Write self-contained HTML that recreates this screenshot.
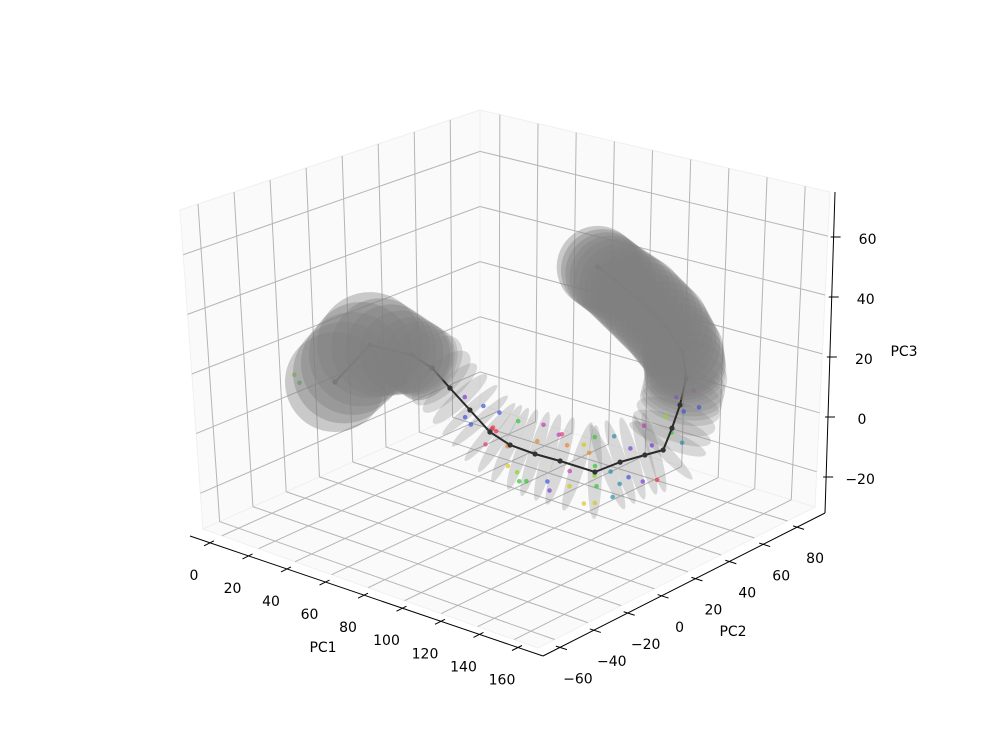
<!DOCTYPE html>
<html><head><meta charset="utf-8"><style>
html,body{margin:0;padding:0;background:#fff;}
svg{display:block;font-family:"DejaVu Sans","Liberation Sans",sans-serif;}
</style></head>
<body>
<svg id="chart" width="1000" height="750" viewBox="0 0 1000 750">
<g id="panes"></g>
<g id="grid"></g>
<g id="discs"></g>
<g id="pts"></g>
<g id="curve"></g>
<g id="spheres"></g>
<g id="axes"></g>
</svg>
<script>
// ---- data ----
const pc1Ticks=[0,20,40,60,80,100,120,140,160];
const pc2Ticks=[-60,-40,-20,0,20,40,60,80];
const pc3Ticks=[-20,0,20,40,60];
const curveP1=[22.1,11.1,24.4,29,38.2,49.6,61,70.1,79.8,88,99.9,104.2,108.4,114.4,116,114.2,111.2,108.4,104.9,100.9,94,90.3];
const curveP2=[-28.3,3.6,13.6,20.3,20.7,20,19.3,21.2,25.2,30.9,38.2,48.1,57.9,62,65.4,71.9,78.6,79.8,73.2,63.1,56.1,50.2];
const curveP3=[15,18,15,10,5,0,-5,-8,-10,-12,-15,-13,-12,-10,-3,3,10,18,28,38,45,50];
const discRadius=[17,18,13,13,12,12.5,13,14,15,15.5,16,15,14,14,14,14,14,14,15,15,14,14];
const discFacing=[1,1,1,0.6,0.3,0.15,0.15,0.15,0.15,0.15,0.15,0.15,0.15,0.15,0.3,0.45,0.7,1,1,1,1,1];
const ptP1=[47,52,45,55,58,63,60,66,58,68,72,75,78,70,82,85,78,84,80,86,90,92,87,94,96,97,101,100,102,98,96,100,103,105,102,108,104,107,110,106,112,113,117,112,119,118,114,114,108,112,115,-2,-1];
const ptP2=[20,18,22,22,20,19,24,15,28,22,18,20,18,26,30,28,32,22,20,34,28,32,36,30,36,38,37,39,36,40,36,38,46,47,45,50,44,50,55,60,58,60,64,66,68,70,70,80,82,74,82,-26,-24];
const ptP3=[-3,-4,3,2,-10,-3,-6,-2,-1,-9,-14,-16,-18,-1,-20,-22,-2,-4,-18,-4,-2,-20,-8,-14,-6,-9,-25,-20,-12,-17,-26,-3,-4,-20,-16,-8,-24,-18,-20,-3,-8,-20,-4,0,-8,2,6,6,16,12,0,12,9];
const ptColor=[6,6,7,6,9,0,0,0,6,1,2,3,4,4,6,7,8,1,4,9,8,2,1,8,2,1,2,4,4,3,2,4,5,5,5,7,5,6,7,8,7,0,4,3,5,6,7,8,1,1,6,3,4];
const palette=["#e8384f","#e88a2a","#d8c41a","#8fd62a","#33c633","#2a8fa8","#3b55d8","#7a3fd6","#c040b0","#e0407a"];
// ---- projection ----
const R1=[-10.4,173],R2=[-70,96.5],R3=[-32,75];
const A=[203,529],B=[538,648],C=[815,507],D=[480,405],At=[180,210],Bt=[540,300],Ct=[830,192],Dt=[480,110];
function lerp(a,b,t){return [a[0]+(b[0]-a[0])*t,a[1]+(b[1]-a[1])*t];}
function boxPt(u,v,w){
  const bot=[0,1].map(k=>(1-u)*(1-v)*A[k]+u*(1-v)*B[k]+u*v*C[k]+(1-u)*v*D[k]);
  const top=[0,1].map(k=>(1-u)*(1-v)*At[k]+u*(1-v)*Bt[k]+u*v*Ct[k]+(1-u)*v*Dt[k]);
  return lerp(bot,top,w);
}
function nu(p){return (p-R1[0])/(R1[1]-R1[0]);}
function nv(p){return (p-R2[0])/(R2[1]-R2[0]);}
function nw(p){return (p-R3[0])/(R3[1]-R3[0]);}
function proj(p1,p2,p3){
  return [203+1.858*(p1+10)+1.735*(p2+70), 529+0.601*(p1+10)-0.675*(p2+70)-2.94*(p3+32)];
}
const NS="http://www.w3.org/2000/svg";
function mk(tag,parent,attrs){const e=document.createElementNS(NS,tag);for(const k in attrs)e.setAttribute(k,attrs[k]);parent.appendChild(e);return e;}
const gPanes=document.getElementById('panes'),gGrid=document.getElementById('grid'),gDiscs=document.getElementById('discs'),
gPts=document.getElementById('pts'),gCurve=document.getElementById('curve'),gSph=document.getElementById('spheres'),gAxes=document.getElementById('axes');
function poly(pts){return pts.map(p=>p[0].toFixed(1)+','+p[1].toFixed(1)).join(' ');}
// panes
let pn;
pn=mk('polygon',gPanes,{points:poly([boxPt(0,0,0),boxPt(0,1,0),boxPt(0,1,1),boxPt(0,0,1)]),fill:'#f2f2f2','fill-opacity':'0.35',stroke:'#f0f0f0'});


pn=mk('polygon',gPanes,{points:poly([boxPt(0,1,0),boxPt(1,1,0),boxPt(1,1,1),boxPt(0,1,1)]),fill:'#f2f2f2','fill-opacity':'0.35',stroke:'#f0f0f0'});


pn=mk('polygon',gPanes,{points:poly([boxPt(0,0,0),boxPt(1,0,0),boxPt(1,1,0),boxPt(0,1,0)]),fill:'#f2f2f2','fill-opacity':'0.35',stroke:'#f0f0f0'});


function gline(p,q,name){
  const l=mk('line',gGrid,{x1:p[0],y1:p[1],x2:q[0],y2:q[1],stroke:'#b5b5b5','stroke-width':1});
  
  
}
pc2Ticks.forEach(t=>{const v=nv(t);gline(boxPt(0,v,0),boxPt(0,v,1),'grid-pc2');gline(boxPt(0,v,0),boxPt(1,v,0),'grid-pc2-floor');});
pc1Ticks.forEach(t=>{const u=nu(t);gline(boxPt(u,1,0),boxPt(u,1,1),'grid-pc1');gline(boxPt(u,0,0),boxPt(u,1,0),'grid-pc1-floor');});
pc3Ticks.forEach(t=>{const w=nw(t);gline(boxPt(0,0,w),boxPt(0,1,w),'grid-pc3-left');gline(boxPt(0,1,w),boxPt(1,1,w),'grid-pc3-right');});
// discs
const scr=curveP1.map((_,i)=>proj(curveP1[i],curveP2[i],curveP3[i]));
const n=scr.length;
function drawDisc(parent,p,ang,r,f,op){
  const R=r*2.94;
  const e=mk('ellipse',parent,{cx:p[0].toFixed(1),cy:p[1].toFixed(1),rx:(R*f).toFixed(1),ry:R.toFixed(1),
    transform:`rotate(${(ang*180/Math.PI).toFixed(1)} ${p[0].toFixed(1)} ${p[1].toFixed(1)})`,fill:'#808080','fill-opacity':op});
  
  
}
for(let i=0;i<n;i++){
  const a=scr[Math.max(0,i-1)],b=scr[Math.min(n-1,i+1)];
  const ang=Math.atan2(b[1]-a[1],b[0]-a[0]);
  const sph=discFacing[i]>0.8;
  drawDisc(sph?gSph:gDiscs,scr[i],ang,discRadius[i],discFacing[i],sph?0.4:0.28);
  if(i<n-1){
    const q=scr[i+1];
    const steps=(discFacing[i]>0.65||discFacing[i+1]>0.65)?4:2;
    for(let s=1;s<steps;s++){
      const t=s/steps;
      const mid=lerp(scr[i],q,t);
      const f=discFacing[i]+(discFacing[i+1]-discFacing[i])*t;
      const r=discRadius[i]+(discRadius[i+1]-discRadius[i])*t;
      const s2=f>0.8;
      drawDisc(s2?gSph:gDiscs,mid,Math.atan2(q[1]-scr[i][1],q[0]-scr[i][0]),r,f,s2?0.4:0.28);
    }
  }
}
// points
ptP1.forEach((_,i)=>{
  const p=proj(ptP1[i],ptP2[i],ptP3[i]);
  const c=mk('circle',gPts,{cx:p[0].toFixed(1),cy:p[1].toFixed(1),r:2.3,fill:palette[ptColor[i]],'fill-opacity':'0.7'});
  
  
});
// curve
const pl=mk('polyline',gCurve,{points:poly(scr),fill:'none',stroke:'#2a2a2a','stroke-width':2});


scr.forEach(p=>{
  const c=mk('circle',gCurve,{cx:p[0].toFixed(1),cy:p[1].toFixed(1),r:2.6,fill:'#333'});
  
  
});
// axes
function axisLine(p,q,name){
  const l=mk('line',gAxes,{x1:p[0],y1:p[1],x2:q[0],y2:q[1],stroke:'#000','stroke-width':1});
  
  
}
function txt(x,y,s,name,anchor){
  const t=mk('text',gAxes,{x:x.toFixed(1),y:y.toFixed(1),'font-size':'14','text-anchor':anchor||'middle','dominant-baseline':'central',fill:'#000'});
  t.textContent=s;
  
  
}
function fmt(t){return t<0?'\u2212'+Math.abs(t):String(t);}
const ax1=[[190,536],[543,656]],ax2=[[543,656],[825,513]],ax3=[[825,513],[835,192]];
axisLine(ax1[0],ax1[1],'pc1-axis-line');
axisLine(ax2[0],ax2[1],'pc2-axis-line');
axisLine(ax3[0],ax3[1],'pc3-axis-line');
pc1Ticks.forEach(t=>{const p=lerp(ax1[0],ax1[1],nu(t));axisLine([p[0]-6,p[1]+3],[p[0]+4,p[1]-2],'pc1-tick');txt(p[0]-16,p[1]+33,fmt(t),'pc1-tick-label');});
pc2Ticks.forEach(t=>{const p=lerp(ax2[0],ax2[1],nv(t));axisLine([p[0]-4,p[1]-1.3],[p[0]+7,p[1]+2.2],'pc2-tick');txt(p[0]+18,p[1]+32,fmt(t),'pc2-tick-label');});
pc3Ticks.forEach(t=>{const p=lerp(ax3[0],ax3[1],nw(t));axisLine([p[0]-3,p[1]],[p[0]+7,p[1]],'pc3-tick');txt(p[0]+34,p[1]+3,fmt(t),'pc3-tick-label');});
txt(323,648,'PC1','pc1-axis-title');
txt(733,632,'PC2','pc2-axis-title');
txt(904,352,'PC3','pc3-axis-title');
</script>
</body></html>
